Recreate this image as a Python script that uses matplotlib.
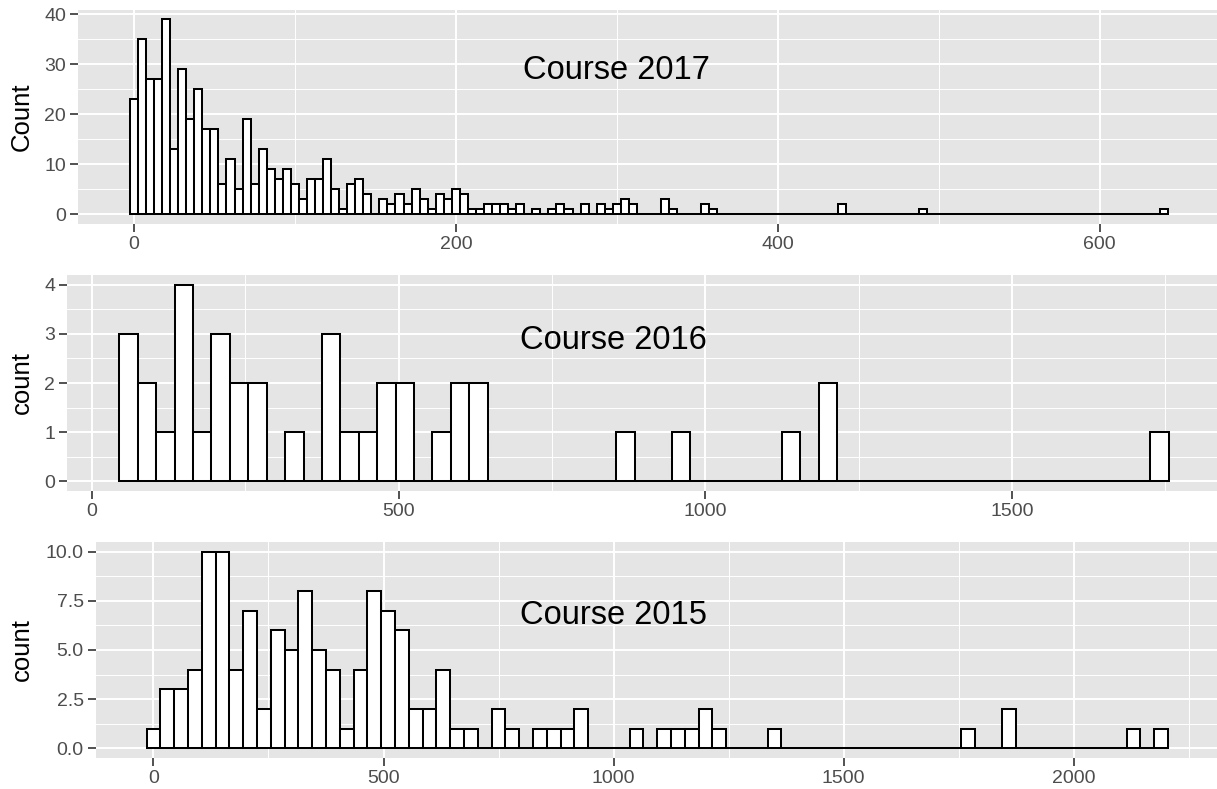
import numpy as np
import matplotlib
matplotlib.use("Agg")
import matplotlib.pyplot as plt
from matplotlib.ticker import MultipleLocator, FixedLocator

plt.rcParams['font.family'] = ['Liberation Sans', 'DejaVu Sans']

# ---------------- data ----------------
# Course 2017: bin width 5, first bin centred at 0
start_2017 = 0
bw_2017 = 5
counts_2017 = [23, 35, 27, 27, 39, 13, 29, 19, 25, 17, 17, 6, 11, 5, 19, 6, 13, 9, 7, 9,
               6, 3, 7, 7, 11, 5, 1, 6, 7, 4, 0, 3, 2, 4, 2, 5, 3, 1, 4, 3,
               5, 4, 1, 1, 2, 2, 2, 1, 2, 0, 1, 0, 1, 2, 1, 0, 2, 0, 2, 1,
               2, 3, 2, 0, 0, 0, 3, 1, 0, 0, 0, 2, 1, 0, 0, 0, 0, 0, 0, 0,
               0, 0, 0, 0, 0, 0, 0, 0, 2, 0, 0, 0, 0, 0, 0, 0, 0, 0, 1, 0,
               0, 0, 0, 0, 0, 0, 0, 0, 0, 0, 0, 0, 0, 0, 0, 0, 0, 0, 0, 0,
               0, 0, 0, 0, 0, 0, 0, 0, 1]

# Course 2016: bin width 30, first bin centred at 60
start_2016 = 60
bw_2016 = 30
counts_2016 = [3, 2, 1, 4, 1, 3, 2, 2, 0, 1, 0, 3, 1, 1, 2, 2, 0, 1, 2, 2,
               0, 0, 0, 0, 0, 0, 0, 1, 0, 0, 1, 0, 0, 0, 0, 0, 1, 0, 2, 0,
               0, 0, 0, 0, 0, 0, 0, 0, 0, 0, 0, 0, 0, 0, 0, 0, 1]

# Course 2015: bin width 30, first bin centred at 0
start_2015 = 0
bw_2015 = 30
counts_2015 = [1, 3, 3, 4, 10, 10, 4, 7, 2, 6, 5, 8, 5, 4, 1, 4, 8, 7, 6, 2,
               2, 4, 1, 1, 0, 2, 1, 0, 1, 1, 1, 2, 0, 0, 0, 1, 0, 1, 1, 1,
               2, 1, 0, 0, 0, 1, 0, 0, 0, 0, 0, 0, 0, 0, 0, 0, 0, 0, 0, 1,
               0, 0, 2, 0, 0, 0, 0, 0, 0, 0, 0, 1, 0, 1]

labels = ["Count", "count", "count"]
titles = ["Course 2017", "Course 2016", "Course 2015"]
title_pos = [(300, 28.7), (850, 2.87), (1000, 6.75)]
xticks = [[0, 200, 400, 600], [0, 500, 1000, 1500], [0, 500, 1000, 1500, 2000]]
yticks = [[0, 10, 20, 30, 40], [0, 1, 2, 3, 4], [0, 2.5, 5.0, 7.5, 10.0]]
yticklabels = [["0", "10", "20", "30", "40"], ["0", "1", "2", "3", "4"],
               ["0.0", "2.5", "5.0", "7.5", "10.0"]]

# ---------------- layout (pixels) ----------------
W, H = 1217, 789
panels_px = [  # left, right, top, bottom
    (78, 1220, 9.5, 224),
    (67, 1221, 275, 491),
    (95.5, 1219, 542, 758),
]

fig = plt.figure(figsize=(W / 100, H / 100), dpi=100)
fig.patch.set_facecolor("white")

datasets = [(start_2017, bw_2017, counts_2017),
            (start_2016, bw_2016, counts_2016),
            (start_2015, bw_2015, counts_2015)]

for i, ((l, r, t, b), (st, bw, cnt)) in enumerate(zip(panels_px, datasets)):
    ax = fig.add_axes([l / W, 1 - b / H, (r - l) / W, (b - t) / H])
    ax.set_facecolor("#E5E5E5")
    cnt = np.array(cnt)
    centers = st + bw * np.arange(len(cnt))
    ax.bar(centers, cnt, width=bw, color="white", edgecolor="black",
           linewidth=1.45, align="center", zorder=3)
    lo = centers[0] - bw / 2
    hi = centers[-1] + bw / 2
    pad = (hi - lo) * 0.05
    ax.set_xlim(lo - pad, hi + pad)
    ymax = cnt.max()
    ax.set_ylim(-ymax * 0.05, ymax * 1.05)

    xt = xticks[i]
    ax.xaxis.set_major_locator(FixedLocator(xt))
    step = xt[1] - xt[0]
    ax.xaxis.set_minor_locator(MultipleLocator(step / 2))
    yt = yticks[i]
    ax.set_yticks(yt)
    ax.set_yticklabels(yticklabels[i])
    ax.yaxis.set_minor_locator(MultipleLocator((yt[1] - yt[0]) / 2))

    ax.grid(which="major", color="white", linewidth=1.4, zorder=0)
    ax.grid(which="minor", color="white", linewidth=0.7, zorder=0)
    ax.set_axisbelow(True)
    for s in ax.spines.values():
        s.set_visible(False)
    ax.tick_params(which="major", length=5.5, width=1.2, color="#333333",
                   labelcolor="#4D4D4D", labelsize=14, pad=3)
    ax.tick_params(which="minor", length=0)

    ax.set_ylabel(labels[i], fontsize=18.5, color="black", va="center")
    ax.yaxis.set_label_coords((22 - l) / (r - l), 0.5)

    ax.text(title_pos[i][0], title_pos[i][1], titles[i], fontsize=23.5,
            ha="center", va="center", color="black", zorder=5)

fig.savefig("out.png", dpi=100, facecolor="white")
